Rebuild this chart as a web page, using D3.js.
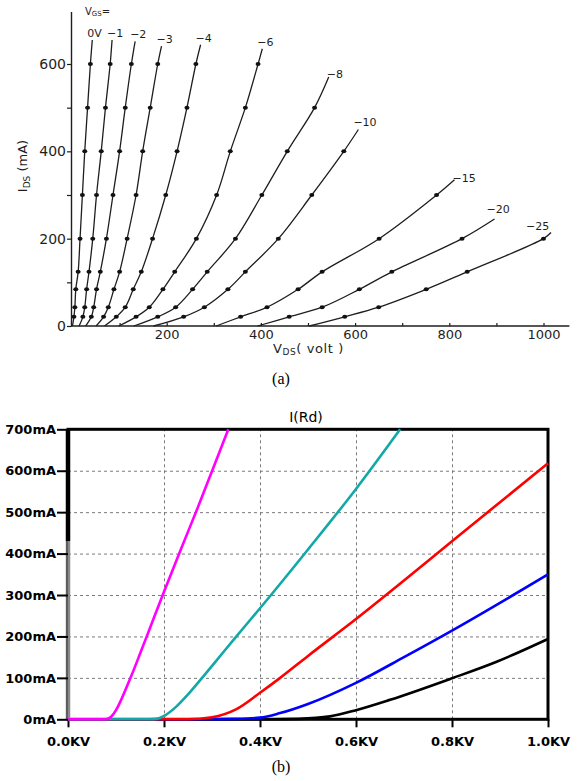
<!DOCTYPE html>
<html>
<head>
<meta charset="utf-8">
<script src="https://cdn.jsdelivr.net/npm/d3@7"></script>
<style>
  body { margin: 0; background: #fff; }
  svg { display: block; }
</style>
</head>
<body>
<div id="chart"></div>
<script>
// ---------- panel (a): measured curves, VDS (volt) vs IDS (mA) ----------
var aLabels = ["0V", "\u22121", "\u22122", "\u22123", "\u22124", "\u22126", "\u22128", "\u221210", "\u221215", "\u221220", "\u221225"];

var vgs0   = [[0,0],[3,21],[5,43],[7,84],[12,124],[16,200],[21,300],[26,400],[32,500],[38,600],[42,655]];
var vgsM1  = [[14,0],[22,21],[26,43],[30,84],[35,124],[43,200],[51,300],[61,400],[70,500],[80,600],[84,655]];
var vgsM2  = [[28,0],[40,21],[45,43],[51,84],[59,124],[72,200],[86,300],[100,400],[112,500],[125,600],[133,652]];
var vgsM3  = [[50,0],[66,21],[76,43],[88,84],[100,124],[116,200],[135,300],[149,400],[165,500],[181,600],[189,641]];
var vgsM4  = [[68,0],[93,21],[112,43],[129,84],[146,124],[170,200],[198,300],[222,400],[243,500],[262,600],[272,644]];
var vgsM6  = [[98,0],[135,21],[163,43],[192,84],[217,124],[263,200],[306,300],[335,400],[367,500],[394,600],[403,635]];
var vgsM8  = [[130,0],[181,21],[219,43],[255,84],[286,124],[346,200],[402,300],[456,400],[514,500],[544,570]];
var vgsM10 = [[172,0],[236,21],[280,43],[330,84],[367,124],[437,200],[508,300],[576,400],[607,450]];
var vgsM15 = [[305,0],[357,21],[413,43],[479,84],[530,124],[651,200],[773,300],[811,335]];
var vgsM20 = [[393,0],[460,21],[530,43],[609,84],[678,124],[827,200],[896,245]];
var vgsM25 = [[503,0],[578,21],[650,43],[751,84],[838,124],[1000,200],[1016,214]];

var aCurves = [vgs0, vgsM1, vgsM2, vgsM3, vgsM4, vgsM6, vgsM8, vgsM10, vgsM15, vgsM20, vgsM25];

var aYTicks = [0, 100, 200, 300, 400, 500, 600];
var aYLabels = [0, 200, 400, 600];
var aXTicks = [100, 200, 300, 400, 500, 600, 700, 800, 900, 1000];
var aXLabels = [200, 400, 600, 800, 1000];

// ---------- panel (b): simulated I(Rd), kV vs mA ----------
var bMagenta = [[0,0],[0.079,0],[0.09,6],[0.1,22],[0.11,45],[0.12,72],[0.132,105],[0.15,158],[0.17,218],[0.2,308],[0.235,410],[0.27,510],[0.302,605],[0.334,700]];
var bTeal    = [[0,0],[0.17,0],[0.185,1],[0.2,8],[0.225,30],[0.25,60],[0.275,94],[0.31,143],[0.35,199],[0.4,268],[0.5,410],[0.6,556],[0.692,700]];
var bRed     = [[0,0],[0.25,0],[0.3,5],[0.35,24],[0.4,64],[0.442,100],[0.5,153],[0.6,242],[0.7,335],[0.8,430],[0.9,524],[1.0,618]];
var bBlue    = [[0,0],[0.27,0],[0.35,1],[0.4,4],[0.442,15],[0.5,37],[0.6,88],[0.7,150],[0.8,214],[0.9,281],[1.0,350]];
var bBlack   = [[0,0],[0.42,0],[0.48,1],[0.546,7],[0.6,22],[0.671,47],[0.8,99],[0.893,139],[1.0,194]];

// drawn bottom-most first
var bSeries = [bBlack, bBlue, bRed, bTeal, bMagenta];
var bColors = ["#000000", "#0000ff", "#ff0000", "#13a8a8", "#ff00ff"];

var bYTicks = [0, 100, 200, 300, 400, 500, 600, 700];
var bXTicks = [0, 0.2, 0.4, 0.6, 0.8, 1.0];
var bTitle = "I(Rd)";

var W = 582, H = 781;
var svg = d3.select("#chart").append("svg")
   .attr("width", W)
   .attr("height", H)
   .style("font-family", "'DejaVu Sans', sans-serif");

// ================= panel (a) =================
var xA = d3.scaleLinear().domain([0, 1055]).range([72.5, 569.4]);
var yA = d3.scaleLinear().domain([0, 720]).range([326, 11.6]);
var ink = "#1e1e1e";

var pa = svg.append("g").attr("class", "panel-a");

var yAxisA = d3.axisLeft(yA)
   .tickValues(aYTicks)
   .tickSize(4)
   .tickSizeOuter(0)
   .tickPadding(1)
   .tickFormat(function (d) { return aYLabels.indexOf(d) >= 0 ? d : ""; });

var gYA = pa.append("g")
   .attr("transform", "translate(71,0)")
   .call(yAxisA);

var xAxisA = d3.axisBottom(xA)
   .tickValues(aXTicks)
   .tickSize(-3)
   .tickSizeOuter(0)
   .tickPadding(4)
   .tickFormat(function (d) { return aXLabels.indexOf(d) >= 0 ? d : ""; });

var gXA = pa.append("g")
   .attr("transform", "translate(0,326)")
   .call(xAxisA);

// extend baseline to the y axis
gXA.select(".domain").attr("d", "M71,0H569.4");

[gYA, gXA].forEach(function (g) {
   g.select(".domain").attr("stroke", ink).attr("stroke-width", 1.4);
   g.selectAll(".tick line").attr("stroke", ink).attr("stroke-width", 1.2);
   g.selectAll(".tick text")
      .attr("fill", ink)
      .style("font-family", "'DejaVu Sans', sans-serif");
});
gYA.selectAll(".tick text").style("font-size", "14px");
gXA.selectAll(".tick text").style("font-size", "13px");

// axis titles
pa.append("text")
   .attr("transform", "translate(27,166) rotate(-90)")
   .attr("text-anchor", "middle")
   .attr("fill", ink)
   .style("font-size", "13px")
   .call(function (t) {
      t.append("tspan").text("I");
      t.append("tspan").attr("dy", 3).style("font-size", "9px").text("DS");
      t.append("tspan").attr("dy", -3).text(" (mA)");
   });

pa.append("text")
   .attr("x", 273)
   .attr("y", 353)
   .attr("fill", ink)
   .style("font-size", "13px")
   .style("letter-spacing", "0.6px")
   .call(function (t) {
      t.append("tspan").text("V");
      t.append("tspan").attr("dy", 2).style("font-size", "9px").text("DS");
      t.append("tspan").attr("dy", -2).text("( volt )");
   });

pa.append("text")
   .attr("x", 85)
   .attr("y", 15)
   .attr("fill", ink)
   .style("font-size", "10px")
   .call(function (t) {
      t.append("tspan").text("V");
      t.append("tspan").attr("dy", 1).style("font-size", "7px").text("GS");
      t.append("tspan").attr("dy", -1).text("=");
   });

var lineA = d3.line()
   .x(function (d) { return xA(d[0]); })
   .y(function (d) { return yA(d[1]); })
   .curve(d3.curveCatmullRom.alpha(0.5));

pa.selectAll(".curve-a")
   .data(aCurves)
   .enter().append("path")
   .attr("class", "curve-a")
   .attr("fill", "none")
   .attr("stroke", ink)
   .attr("stroke-width", 1.3)
   .attr("d", lineA);

aCurves.forEach(function (c) {
   pa.selectAll(null)
      .data(c.slice(1, -1))
      .enter().append("ellipse")
      .attr("cx", function (d) { return xA(d[0]); })
      .attr("cy", function (d) { return yA(d[1]); })
      .attr("rx", 2.5)
      .attr("ry", 2)
      .attr("fill", "#111");
});

// curve labels sit just past the end of each curve
var nudge = { "\u22128": [-2, -3], "\u221215": [-2, -2], "\u221220": [-8, -10], "\u221225": [-25, -6] };
pa.selectAll(".lbl-a")
   .data(aCurves)
   .enter().append("text")
   .attr("class", "lbl-a")
   .attr("x", function (c, i) { var n = nudge[aLabels[i]] || [-5, -7]; return xA(c[c.length - 1][0]) + n[0]; })
   .attr("y", function (c, i) { var n = nudge[aLabels[i]] || [-5, -7]; return yA(c[c.length - 1][1]) + n[1]; })
   .attr("dy", "0.35em")
   .attr("fill", ink)
   .style("font-size", "11px")
   .text(function (c, i) { return aLabels[i]; });

svg.append("text")
   .attr("x", 281)
   .attr("y", 384)
   .attr("text-anchor", "middle")
   .style("font-family", "'Liberation Serif', 'Times New Roman', serif")
   .style("font-size", "16px")
   .text("(a)");

// ================= panel (b) =================
var xB = d3.scaleLinear().domain([0, 1]).range([68, 548]);
var yB = d3.scaleLinear().domain([0, 700]).range([719.3, 429.3]);
var plotW = 480, plotH = 290;

var pb = svg.append("g").attr("class", "panel-b");

pb.append("defs").append("clipPath")
   .attr("id", "clipB")
   .append("rect")
   .attr("x", 66).attr("y", 428)
   .attr("width", plotW + 4).attr("height", plotH + 4);

// dashed grid
pb.append("g")
   .attr("transform", "translate(0,719.3)")
   .call(d3.axisBottom(xB).tickValues(bXTicks.slice(1, -1)).tickSize(-plotH).tickFormat(""))
   .call(function (g) { g.select(".domain").remove(); })
   .selectAll("line")
   .attr("stroke", "#7a7a7a")
   .attr("stroke-dasharray", "3,3");

pb.append("g")
   .attr("transform", "translate(68,0)")
   .call(d3.axisLeft(yB).tickValues(bYTicks.slice(1, -1)).tickSize(-plotW).tickFormat(""))
   .call(function (g) { g.select(".domain").remove(); })
   .selectAll("line")
   .attr("stroke", "#7a7a7a")
   .attr("stroke-dasharray", "3,3");

// frame
pb.append("rect")
   .attr("x", 68).attr("y", 429.3)
   .attr("width", plotW).attr("height", plotH)
   .attr("fill", "none")
   .attr("stroke", "#000")
   .attr("stroke-width", 3);
pb.append("line")
   .attr("x1", 68).attr("x2", 68).attr("y1", 429).attr("y2", 541)
   .attr("stroke", "#000").attr("stroke-width", 4.5);
pb.append("line")
   .attr("x1", 68).attr("x2", 68).attr("y1", 541).attr("y2", 719)
   .attr("stroke", "#8a8a8a").attr("stroke-width", 4.5);
pb.append("line")
   .attr("x1", 67).attr("x2", 67).attr("y1", 541).attr("y2", 719)
   .attr("stroke", "#333").attr("stroke-width", 1);

// ticks and labels
var yAxisB = d3.axisLeft(yB)
   .tickValues(bYTicks)
   .tickSize(11)
   .tickPadding(1)
   .tickFormat(function (d) { return d + "mA"; });
var gYB = pb.append("g").attr("transform", "translate(68,0)").call(yAxisB);

var xAxisB = d3.axisBottom(xB)
   .tickValues(bXTicks)
   .tickSize(8)
   .tickPadding(9)
   .tickFormat(function (d) { return d.toFixed(1) + "KV"; });
var gXB = pb.append("g").attr("transform", "translate(0,719.3)").call(xAxisB);

[gYB, gXB].forEach(function (g) {
   g.select(".domain").remove();
   g.selectAll(".tick line").attr("stroke", "#000").attr("stroke-width", 2);
   g.selectAll(".tick text")
      .attr("fill", "#000")
      .style("font-family", "'DejaVu Sans', sans-serif")
      .style("font-weight", "bold")
      .style("font-size", "13px");
});

pb.append("text")
   .attr("x", 306)
   .attr("y", 422)
   .attr("text-anchor", "middle")
   .style("font-size", "14px")
   .text(bTitle);

var lineB = d3.line()
   .x(function (d) { return xB(d[0]); })
   .y(function (d) { return yB(d[1]); })
   .curve(d3.curveMonotoneX);

pb.append("g")
   .attr("clip-path", "url(#clipB)")
   .selectAll("path")
   .data(bSeries)
   .enter().append("path")
   .attr("fill", "none")
   .attr("stroke", function (d, i) { return bColors[i]; })
   .attr("stroke-width", 2.6)
   .attr("d", lineB);

svg.append("text")
   .attr("x", 281)
   .attr("y", 772)
   .attr("text-anchor", "middle")
   .style("font-family", "'Liberation Serif', 'Times New Roman', serif")
   .style("font-size", "16px")
   .text("(b)");
</script>
</body>
</html>
